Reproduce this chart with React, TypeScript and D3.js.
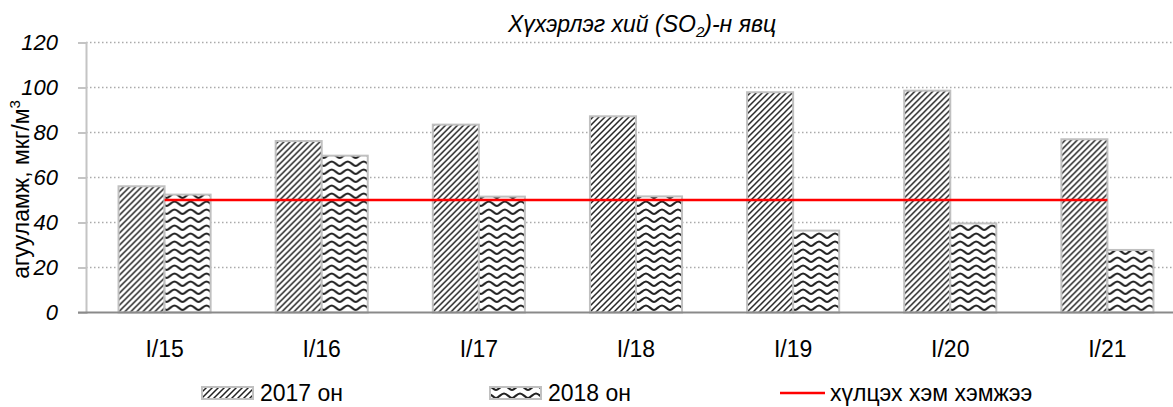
import React, { useEffect, useRef } from "react";
import * as d3 from "d3";

const categories = ["I/15", "I/16", "I/17", "I/18", "I/19", "I/20", "I/21"];
const series = ["2017 он", "2018 он"];
const values2017 = [56.1, 76.2, 83.5, 87.2, 97.9, 98.6, 77.0];
const values2018 = [52.4, 69.7, 51.5, 51.6, 36.4, 39.6, 27.8];
const limitValue = 50;
const limitLabel = "хүлцэх хэм хэмжээ";
const yTicks = [0, 20, 40, 60, 80, 100, 120];

const SO2Chart = () => {
  const chartRef = useRef<SVGSVGElement>(null);

  useEffect(() => {
    const svg = d3.select(chartRef.current);
    svg.selectAll("*").remove();

    const width = 1173;
    const height = 407;
    const plot = { left: 86, top: 42.5, bottom: 312.5, right: 86 + 7 * 157.14 };
    const font = "'Liberation Sans', Arial, sans-serif";

    svg.attr("width", width).attr("height", height);

    // hatch patterns like excel's fills
    const defs = svg.append("defs");
    const diag = defs.append("pattern")
      .attr("id", "diag")
      .attr("patternUnits", "userSpaceOnUse")
      .attr("width", 6).attr("height", 6);
    diag.append("rect").attr("width", 6).attr("height", 6).attr("fill", "#fff");
    diag.append("path")
      .attr("d", "M-1.5,1.5 l3,-3 M0,6 l6,-6 M4.5,7.5 l3,-3")
      .attr("stroke", "#222").attr("stroke-width", 1.5);

    const wave = defs.append("pattern")
      .attr("id", "wave")
      .attr("patternUnits", "userSpaceOnUse")
      .attr("width", 16).attr("height", 8);
    wave.append("rect").attr("width", 16).attr("height", 8).attr("fill", "#fff");
    wave.append("path")
      .attr("d", "M0,6 C2.5,6 5,1.5 8,1.5 C11,1.5 13.5,6 16,6")
      .attr("fill", "none")
      .attr("stroke", "#222").attr("stroke-width", 2.1);

    const fills = ["url(#diag)", "url(#wave)"];

    const x0 = d3.scaleBand().domain(categories).range([plot.left, plot.right]);
    const groupW = x0.bandwidth() * 0.586;
    const x1 = d3.scaleBand().domain(series).range([0, groupW]);

    const y = d3.scaleLinear().domain([0, 120]).range([plot.bottom, plot.top]);

    // gridlines
    svg.append("g")
      .selectAll("line")
      .data(yTicks.filter((t) => t > 0))
      .enter().append("line")
      .attr("x1", plot.left).attr("x2", width)
      .attr("y1", (d) => y(d)).attr("y2", (d) => y(d))
      .attr("stroke", "#aaaaaa")
      .attr("stroke-width", 1.3)
      .attr("stroke-dasharray", "1.5,2.5");

    // y axis
    const yAxis = svg.append("g")
      .attr("transform", `translate(${plot.left},0)`)
      .call(d3.axisLeft(y).tickValues(yTicks).tickSize(8).tickPadding(20));
    yAxis.select(".domain").attr("stroke", "#c4c4c4").attr("stroke-width", 2);
    yAxis.selectAll(".tick line").attr("stroke", "#c4c4c4").attr("stroke-width", 2);
    yAxis.selectAll(".tick text")
      .attr("font-family", font)
      .attr("font-size", 22)
      .attr("font-style", "italic")
      .attr("fill", "#000")
      .attr("dy", "0.34em");

    // bars
    const data = categories.map((c, i) => ({ cat: c, vals: [values2017[i], values2018[i]] }));
    const groups = svg.append("g")
      .selectAll("g")
      .data(data)
      .enter().append("g")
      .attr("transform", (d) => `translate(${x0(d.cat)! + (x0.bandwidth() - groupW) / 2},0)`);

    groups.selectAll("rect")
      .data((d) => d.vals.map((v, j) => ({ s: series[j], v, j })))
      .enter().append("rect")
      .attr("x", (d) => x1(d.s)!)
      .attr("y", (d) => y(d.v))
      .attr("width", x1.bandwidth())
      .attr("height", (d) => y(0) - y(d.v))
      .attr("fill", (d) => fills[d.j])
      .attr("stroke", "#c0c0c0")
      .attr("stroke-width", 2);

    // x axis
    const xAxis = svg.append("g")
      .attr("transform", `translate(0,${plot.bottom})`)
      .call(d3.axisBottom(x0).tickSize(0).tickPadding(28));
    xAxis.select(".domain").attr("stroke", "#8a8a8a").attr("stroke-width", 2)
      .attr("d", `M${plot.left - 8},0H${width}`);
    xAxis.selectAll(".tick text")
      .attr("font-family", font)
      .attr("font-size", 23)
      .attr("fill", "#000")
      .attr("dy", "0.71em");

    // limit line
    const mid = (c: string) => x0(c)! + x0.bandwidth() / 2;
    svg.append("line")
      .attr("x1", mid(categories[0]))
      .attr("x2", mid(categories[categories.length - 1]))
      .attr("y1", y(limitValue)).attr("y2", y(limitValue))
      .attr("stroke", "#ff0000")
      .attr("stroke-width", 2.5);

    // title
    const title = svg.append("text")
      .attr("x", 642).attr("y", 32)
      .attr("text-anchor", "middle")
      .attr("font-family", font)
      .attr("font-size", 23)
      .attr("font-style", "italic");
    title.append("tspan").text("Хүхэрлэг хий (SO");
    title.append("tspan").attr("font-size", 15).attr("dy", 5).text("2");
    title.append("tspan").attr("dy", -5).text(")-н явц");

    // y label
    const ylab = svg.append("text")
      .attr("transform", `translate(29,${(plot.top + plot.bottom) / 2 + 12}) rotate(-90)`)
      .attr("text-anchor", "middle")
      .attr("font-family", font)
      .attr("font-size", 23);
    ylab.append("tspan").text("агууламж, мкг/м");
    ylab.append("tspan").attr("font-size", 15).attr("dy", -9).text("3");

    // legend
    const legend = svg.append("g").attr("font-family", font).attr("font-size", 23);
    const legX = [202, 490];
    series.forEach((s, i) => {
      legend.append("rect")
        .attr("x", legX[i]).attr("y", 387)
        .attr("width", 51).attr("height", 12)
        .attr("fill", fills[i])
        .attr("stroke", "#c0c0c0").attr("stroke-width", 2);
      legend.append("text").attr("x", legX[i] + 58).attr("y", 401).text(s);
    });
    legend.append("line")
      .attr("x1", 780).attr("x2", 825)
      .attr("y1", 393).attr("y2", 393)
      .attr("stroke", "#ff0000").attr("stroke-width", 2.5);
    legend.append("text").attr("x", 830).attr("y", 401).text(limitLabel);
  }, []);

  return (
    <svg
      ref={chartRef}
      style={{ position: "absolute", left: 0, top: 0, background: "#fff" }}
    ></svg>
  );
};

export default function App() {
  return <SO2Chart />;
}
